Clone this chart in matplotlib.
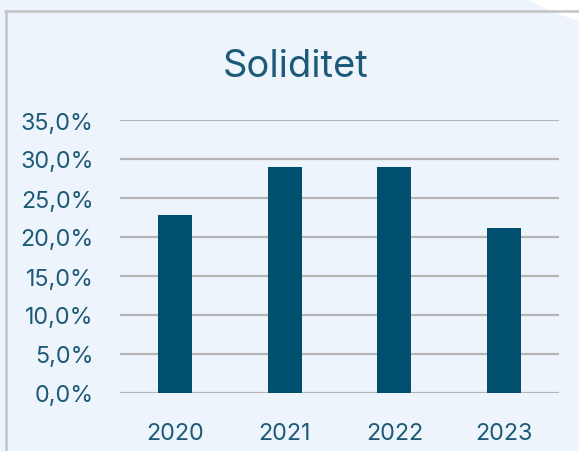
import matplotlib
matplotlib.use("Agg")
import matplotlib.pyplot as plt
from matplotlib.patches import Ellipse
from matplotlib.lines import Line2D
from matplotlib.ticker import FuncFormatter

years = ["2020", "2021", "2022", "2023"]
soliditet = [22.8, 29.0, 29.0, 21.2]
yticks = [0, 5, 10, 15, 20, 25, 30, 35]

W, H = 579, 452
bg = "#eef4fb"
text_c = "#1d5a78"
bar_c = "#004f6e"
grid_c = "#b5b5b5"

plt.rcParams['font.family'] = ['Inter', 'DejaVu Sans']

fig = plt.figure(figsize=(W/100, H/100), dpi=100)
fig.patch.set_facecolor(bg)

# white curved shape top right
fig.patches.append(Ellipse((650/W, 1 + 60/H), 324/W, 182/H, transform=fig.transFigure,
                           facecolor="white", edgecolor="none", zorder=0))
# frame borders
fig.lines.append(Line2D([5/W, 1], [1 - 11.5/H]*2, transform=fig.transFigure, color="#c4c4c4", lw=1.8, zorder=1))
fig.lines.append(Line2D([5.5/W]*2, [0, 1 - 11.5/H], transform=fig.transFigure, color="#c4c4c4", lw=1.8, zorder=1))

ax = fig.add_axes([120/W, 58/H, (559-120)/W, (394-121)/H])
ax.set_facecolor("none")
x = range(len(years))
ax.bar(x, soliditet, width=0.31, color=bar_c, zorder=3)
ax.set_xlim(-0.5, len(years) - 0.5)
ax.set_ylim(0, 35)
ax.set_yticks(yticks)
ax.yaxis.set_major_formatter(FuncFormatter(lambda v, p: f"{v:.1f}".replace(".", ",") + "%"))
ax.set_xticks(list(x))
ax.set_xticklabels(years)
for v in yticks:
    ax.axhline(v, color=grid_c, lw=1.6, zorder=1)
for s in ax.spines.values():
    s.set_visible(False)
ax.tick_params(axis="both", length=0, colors=text_c, labelsize=16.8)
ax.tick_params(axis="y", pad=19)
ax.tick_params(axis="x", pad=21)

fig.text(296/W, 1 - 77/H, "Soliditet", ha="center", va="baseline", color=text_c, fontsize=27.5)

fig.savefig("out.png", dpi=100, facecolor=bg)
